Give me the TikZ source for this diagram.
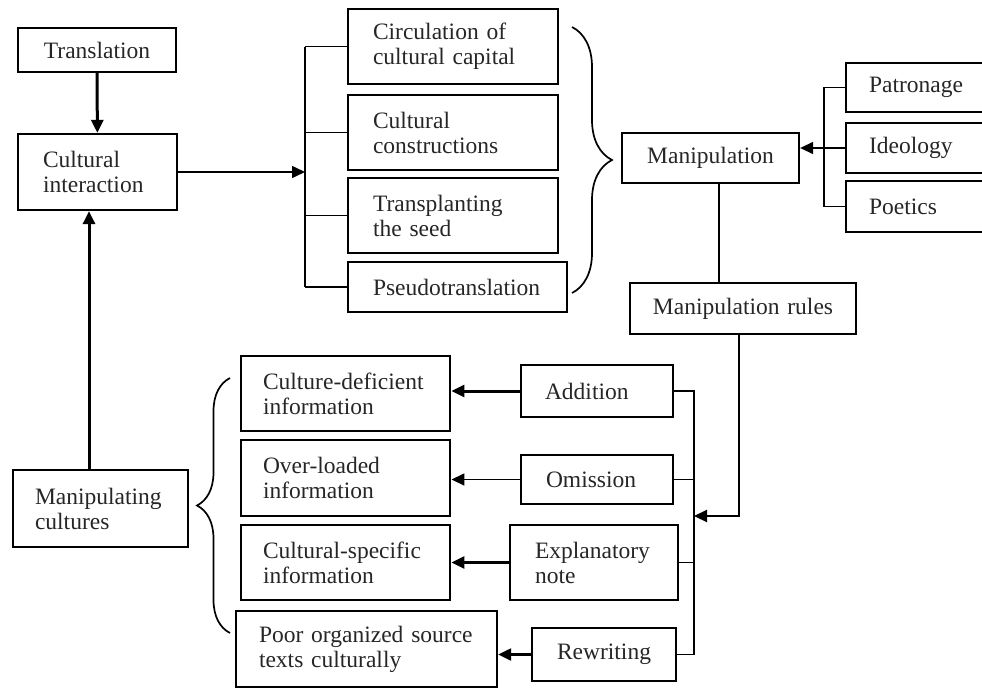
\documentclass[tikz,border=0pt]{standalone}
\usepackage{fontspec}
\setmainfont{Liberation Serif}
\usetikzlibrary{arrows.meta,decorations.pathreplacing}
\newcommand\boxfont{\fontsize{23.5}{25}\selectfont}
\tikzset{
  box/.style={draw, line width=2.3pt, inner ysep=0pt, font=\boxfont, align=left, text=black!85},
  heavybox/.style={box, line width=2.9pt},
  thinline/.style={line width=1.6pt},
  thinarrow/.style={line width=1.6pt, -{Triangle[length=13pt,width=12pt]}},
  midarrow/.style={line width=2.2pt, -{Triangle[length=13pt,width=12pt]}},
  thickarrow/.style={line width=3pt, -{Triangle[length=13pt,width=12pt]}},
  bracestyle/.style={line width=1.7pt, decorate},
}
\begin{document}
\begin{tikzpicture}[x=1pt,y=-1pt]
\useasboundingbox (0,0) rectangle (982,688);

% left column
\node[box, align=center, minimum width=158, minimum height=44, text width=148, inner xsep=5] (trans) at (97,50) {Translation};
\node[box, minimum width=159, minimum height=76, text width=109, inner xsep=25] (cint) at (97.5,172) {Cultural\\interaction};
\node[box, minimum width=175, minimum height=77, text width=131, inner xsep=22] (mcult) at (100.5,508.5) {Manipulating\\cultures};

% middle column (top)
\node[box, minimum width=210, minimum height=75, text width=160, inner xsep=25] (circ) at (453,46.5) {Circulation of\\cultural capital};
\node[box, minimum width=210, minimum height=75, text width=160, inner xsep=25] (cons) at (453,132.5) {Cultural\\constructions};
\node[box, minimum width=210, minimum height=75, text width=160, inner xsep=25] (trsp) at (453,215.5) {Transplanting\\the seed};
\node[box, minimum width=219, minimum height=50, text width=169, inner xsep=25] (pseudo) at (457.5,287) {Pseudotranslation};

% right (top)
\node[box, align=center, minimum width=177, minimum height=50, text width=167, inner xsep=5] (manip) at (710.5,158) {Manipulation};
\node[box, minimum width=139, minimum height=49, text width=93, inner xsep=23] (patr) at (915.5,87.5) {Patronage};
\node[box, minimum width=139, minimum height=50, text width=93, inner xsep=23] (ideo) at (915.5,148) {Ideology};
\node[box, minimum width=139, minimum height=51, text width=93, inner xsep=23] (poet) at (915.5,206.5) {Poetics};
\node[box, align=center, minimum width=226, minimum height=51, text width=216, inner xsep=5] (mrules) at (743,308.5) {Manipulation rules};

% bottom
\node[heavybox, minimum width=209, minimum height=75, text width=165, inner xsep=22] (cdef) at (345.5,393.5) {Culture-deficient\\information};
\node[heavybox, minimum width=209, minimum height=76, text width=165, inner xsep=22] (over) at (345.5,478) {Over-loaded\\information};
\node[heavybox, minimum width=209, minimum height=75, text width=165, inner xsep=22] (cspec) at (345.5,562.5) {Cultural-specific\\information};
\node[box, minimum width=261, minimum height=76, text width=215, inner xsep=23] (poor) at (366.5,649) {Poor organized source\\texts culturally};

\node[heavybox, minimum width=152, minimum height=52, text width=104, inner xsep=24] (add) at (597,391) {Addition};
\node[box, minimum width=152, minimum height=49, text width=102, inner xsep=25] (omi) at (597,479.5) {Omission};
\node[box, minimum width=168, minimum height=75, text width=118, inner xsep=25] (expl) at (594,562.5) {Explanatory\\note};
\node[box, align=center, minimum width=144, minimum height=53, text width=134, inner xsep=5] (rew) at (604,654.5) {Rewriting};

% helper coordinates
\coordinate (upx) at (89,0);
\coordinate (busL) at (305,0);
\coordinate (busR) at (824,0);
\coordinate (vx) at (719,0);
\coordinate (vx2) at (739,0);
\coordinate (busB) at (694,516);

% left connectors
\draw[thickarrow] (trans) -- (cint);
\draw[thickarrow] (mcult.north -| upx) -- (cint.south -| upx);
\draw[thinarrow] (cint.east) -- (cint.east -| busL);
\draw[thinline] (circ.west -| busL) -- (pseudo.west -| busL);
\draw[thinline] (circ.west -| busL) -- (circ.west);
\draw[thinline] (cons.west -| busL) -- (cons.west);
\draw[thinline] (trsp.west -| busL) -- (trsp.west);
\draw[thinline] (pseudo.west -| busL) -- (pseudo.west);

% braces
\coordinate (brT) at (572,27);
\coordinate (brB) at (572,293);
\draw[bracestyle, decoration={brace, amplitude=40pt}] (brT) -- (brB);
\coordinate (blB) at (230,633);
\coordinate (blT) at (230,378);
\draw[bracestyle, decoration={brace, amplitude=33pt}] (blB) -- (blT);

% right top connectors
\draw[thinline] (patr.west) -- (patr.west -| busR) -- (poet.west -| busR) -- (poet.west);
\draw[thinarrow] (ideo.west) -- (ideo.west -| manip.east);
\draw[thinline] (manip.south -| vx) -- (mrules.north -| vx);
\draw[midarrow] (mrules.south -| vx2) |- (busB);

% bottom bus
\draw[thinline] (add.east) -- (add.east -| busB) -- (rew.east -| busB) -- (rew.east);
\draw[thinline] (omi.east) -- (omi.east -| busB);
\draw[thinline] (expl.east) -- (expl.east -| busB);

% bottom arrows
\draw[thickarrow] (add.west) -- (add.west -| cdef.east);
\draw[thinarrow] (omi.west) -- (omi.west -| over.east);
\draw[thickarrow] (expl.west) -- (expl.west -| cspec.east);
\draw[midarrow] (rew.west) -- (rew.west -| poor.east);
\end{tikzpicture}
\end{document}
